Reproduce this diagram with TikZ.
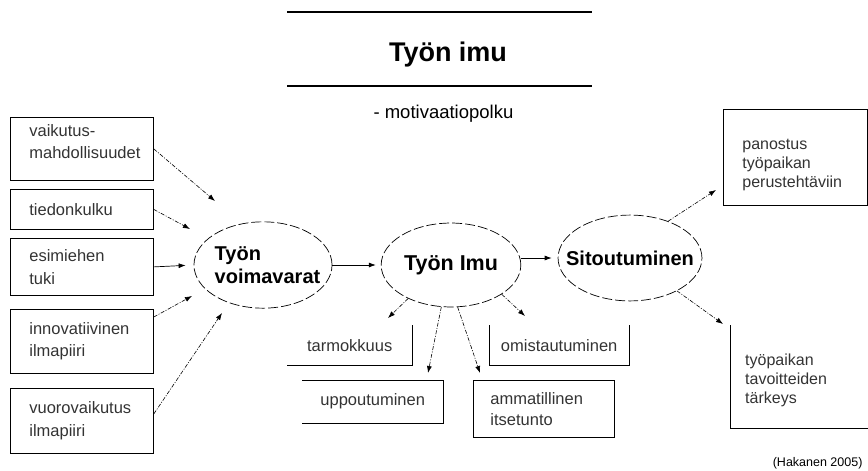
\documentclass[tikz,border=0pt]{standalone}
\usepackage{fontspec}
\setmainfont{Liberation Sans}
\usetikzlibrary{arrows.meta,shapes.geometric,calc}

\begin{document}
\begin{tikzpicture}[x=1pt,y=-1pt,
    box/.style={anchor=north west, align=left, inner xsep=19pt, inner ysep=0pt,
        text=black!80, font=\fontsize{16.5}{22.5}\selectfont},
    frame/.style={draw, line width=0.8pt},
    oval/.style={ellipse, draw, dash pattern=on 10pt off 3pt, line width=0.7pt,
        font=\bfseries\fontsize{20}{23}\selectfont},
    flow/.style={-{Latex[length=7pt,width=5pt]}, line width=0.6pt,
        dash pattern=on 4pt off 1.5pt on 1pt off 1.5pt},
    link/.style={-{Latex[length=7pt,width=5pt]}, line width=0.7pt}]
    \useasboundingbox (0,0) rectangle (868,471);

    % otsikko
    \draw[line width=2pt] (287,12) -- (592,12);
    \draw[line width=1.3pt] (287,86) -- (592,86);
    \node[font=\bfseries\fontsize{27}{32}\selectfont, anchor=base] (otsikko) at (448,61) {Työn imu};
    \node[font=\fontsize{18.5}{22}\selectfont, anchor=base west] (alaotsikko) at (370,118) {- motivaatiopolku};

    % voimavarat
    \node[box, frame, text width=105pt, minimum height=63pt] (vaikutus) at (10,117) {vaikutus-\\mahdollisuudet\par\vspace*{15pt}};
    \node[box, frame, text width=105pt, minimum height=40pt] (tieto) at (10,189) {tiedonkulku};
    \node[box, frame, text width=105pt, minimum height=57pt] (esimies) at (10,238) {esimiehen\\tuki};
    \node[box, frame, text width=105pt, minimum height=64pt] (innovaatio) at (10,309) {innovatiivinen\\ilmapiiri};
    \node[box, frame, text width=105pt, minimum height=65pt] (vuoro) at (10,388) {vuorovaikutus\\ilmapiiri};

    % ellipsit
    \node[oval, align=left, inner xsep=-8.5pt, inner ysep=12pt] (voimavarat) at (263,265) {\hspace*{9pt}Työn\\\hspace*{9pt}voimavarat};
    \node[oval, inner xsep=2.4pt, inner ysep=20pt, font=\bfseries\fontsize{21.5}{24}\selectfont] (imu) at (451,265) {Työn Imu};
    \node[oval, inner xsep=-13pt, inner ysep=23pt] (sitout) at (630,258) {Sitoutuminen};

    % imun osat
    \node[box, inner xsep=0pt, minimum width=125pt, minimum height=40pt] (tarmo) at (287,325) {tarmokkuus};
    \node[box, inner xsep=0pt, minimum width=141pt, minimum height=43pt] (uppo) at (302,380) {uppoutuminen};
    \node[box, frame, inner xsep=17pt, text width=107pt, minimum height=57pt,
        font=\fontsize{16.5}{21}\selectfont] (ammat) at (473,380) {ammatillinen\\itsetunto};
    \node[box, inner xsep=0pt, minimum width=140pt, minimum height=40pt] (omis) at (489,325) {omistautuminen};

    % seuraukset
    \node[box, frame, text width=106pt, minimum height=96pt, font=\fontsize{16}{19}\selectfont] (panos) at (723,109) {\rule{0pt}{26pt}panostus\\työpaikan\\perustehtäviin};
    \node[box, inner xsep=15pt, text width=110pt, minimum height=103pt, font=\fontsize{16}{19}\selectfont] (tavoite) at (730,325) {\rule{0pt}{18pt}työpaikan\\tavoitteiden\\tärkeys};

    \node[font=\fontsize{12.5}{15}\selectfont, anchor=base east] (lahde) at (866,466) {(Hakanen 2005)};

    % vajaat kehykset
    \draw[frame] (tarmo.north east) -- (tarmo.south east) -- (tarmo.south west);
    \draw[frame] (uppo.north west) -- (uppo.north east) -- (uppo.south east) -- (uppo.south west);
    \draw[frame] (omis.north west) -- (omis.south west) -- (omis.south east) -- (omis.north east);
    \draw[frame] (tavoite.north west) -- (tavoite.south west) -- (tavoite.south east);

    % nuolten kärjet
    \coordinate (vk) at (215,201);
    \coordinate (tk) at (190,229);
    \coordinate (ik) at (192,296);
    \coordinate (vuk) at (222,313);
    \coordinate (tak) at (388,318);
    \coordinate (upk) at (428,373);
    \coordinate (amk) at (480,373);
    \coordinate (omk) at (525,316);
    \coordinate (pak) at (716,190);
    \coordinate (tvk) at (723,324);

    % nuolet
    \draw[flow] (vaikutus.east) -- (vk);
    \draw[flow] (tieto.east) -- (tk);
    \draw[link, shorten >=8pt] (esimies.east) -- (voimavarat.west);
    \draw[flow] ([yshift=-8pt]innovaatio.north east) -- (ik);
    \draw[flow] ([yshift=7pt]vuoro.east) -- (vuk);
    \draw[link, shorten >=5pt] (voimavarat.east) -- (imu.west);
    \draw[link, shorten >=6pt] (imu.east |- sitout.west) -- (sitout.west);
    \draw[flow] (imu.218) -- (tak);
    \draw[flow] (imu.257) -- (upk);
    \draw[flow] (imu.279) -- (amk);
    \draw[flow] (imu.-30) -- (omk);
    \draw[flow] (sitout.44) -- (pak);
    \draw[flow] (sitout.-35) -- (tvk);
\end{tikzpicture}
\end{document}
